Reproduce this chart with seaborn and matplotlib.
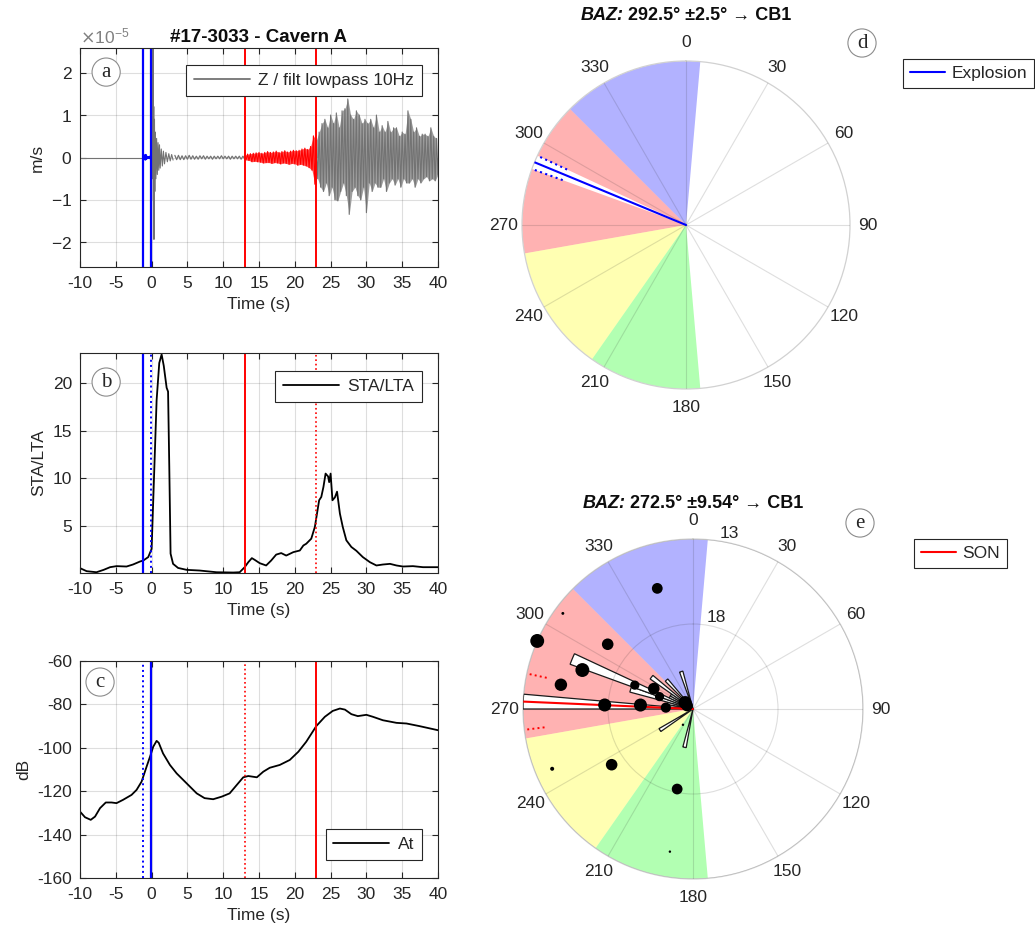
import numpy as np
import matplotlib
matplotlib.use("Agg")
import matplotlib.pyplot as plt
import seaborn as sns
from matplotlib.lines import Line2D
from matplotlib.offsetbox import TextArea, HPacker, AnnotationBbox

# ---------------------------------------------------------------- data
x_ticks = [-10, -5, 0, 5, 10, 15, 20, 25, 30, 35, 40]
expl_window = [-1.2, -0.1]      # explosion pick window (s)
son_window = [13.0, 23.0]       # SON window (s)
wave_scale = 1e-5               # m/s

# (a) Z trace, values in 1e-5 m/s (successive peaks / troughs)
quiet_t = [-10.0, -1.2]
quiet_v = [0.0, 0.0]
blue_v = [0.0, 0.02, -0.02, 0.03, -0.03, 0.06, -0.06, 0.07, -0.05, 0.06, -0.04, 0.03,
          -0.02, 0.02, -0.02, 0.02, -0.02, 0.02, -0.02, 0.03, -0.03, 0.03, 0.0]
expl_t = [-0.1, 0.0, 0.05, 0.1, 0.15, 0.2, 0.25, 0.3, 0.33, 0.4, 0.45, 0.5, 0.6, 0.7,
          0.8, 0.9, 1.0, 1.1, 1.2, 1.35, 1.5, 1.65, 1.8, 2.0, 2.2, 2.4, 2.6, 2.8, 3.0]
expl_v = [0.0, 0.3, -0.4, 2.6, -0.5, 2.6, -1.0, 1.2, -1.93, 0.9, -0.8, 0.6, -0.5, 0.45,
          -0.4, 0.35, -0.3, 0.3, -0.25, 0.2, -0.2, 0.15, -0.15, 0.12, -0.1, 0.09, -0.08, 0.07, -0.06]
coda_v = [0.05, -0.05, 0.05, -0.05, 0.04, -0.05, 0.04, -0.04, 0.05, -0.04,
          0.04, -0.04, 0.03, -0.04, 0.04, -0.03, 0.04, -0.04, 0.03, -0.03,
          0.03, -0.04, 0.03, -0.03, 0.03, -0.03, 0.04, -0.03, 0.03, -0.03,
          0.03, -0.04, 0.03, -0.03, 0.03, -0.03, 0.03, -0.04, 0.03, -0.03]
son_v = [0.05, -0.06, 0.08, -0.07, 0.09, -0.1, 0.1, -0.09, 0.11, -0.1,
         0.12, -0.11, 0.1, -0.13, 0.12, -0.12, 0.14, -0.12, 0.12, -0.14,
         0.13, -0.12, 0.15, -0.13, 0.12, -0.15, 0.14, -0.13, 0.16, -0.14,
         0.13, -0.16, 0.15, -0.14, 0.17, -0.15, 0.16, -0.18, 0.17, -0.16,
         0.2, -0.18, 0.22, -0.2, 0.19, -0.24, 0.26, -0.3, 0.51, -0.63, 0.4]
late_v = [0.4, -0.5, 0.6, -0.7, 0.8, -0.8, 0.9, -0.6, 0.7, -0.9,
          1.0, -0.7, 0.8, -1.0, 1.05, -1.02, 0.7, -0.8, 1.1, -0.6,
          1.15, -0.9, 1.38, -1.34, 1.0, -0.8, 0.9, -0.7, 1.1, -0.9,
          1.0, -1.0, 0.8, -0.7, 0.9, -1.3, 0.8, -0.6, 0.9, -0.8,
          0.7, -0.6, 1.0, -0.7, 0.6, -0.7, 0.75, -0.5, 0.6, -0.8,
          0.85, -0.6, 0.6, -0.5, 0.7, -0.65, 0.7, -0.5, 0.5, -0.7,
          0.6, -0.5, 0.55, -0.6, 1.1, -0.6, 0.9, -0.5, 0.6, -0.7,
          0.7, -0.5, 0.5, -0.6, 0.55, -0.5, 0.55, -0.45, 0.5, -0.55,
          0.7, -0.5, 0.5, -0.55, 0.45, -0.4]

# (b) STA/LTA
sta_t = [-10, -9.07, -7.7, -6.7, -5.8, -4.9, -3.5, -2.6, -1.6, -1.16, -0.47, 0.0, 0.23, 0.7,
         1.07, 1.4, 1.7, 2.1, 2.3, 2.47, 2.65, 3.0, 3.7, 4.9, 6.7, 9.07, 11.4, 12.3, 13.0,
         13.5, 14.0, 14.4, 15.1, 16.0, 16.7, 17.4, 18.1, 18.8, 19.8, 20.7, 21.2, 21.6, 22.3,
         22.8, 23.1, 23.4, 23.7, 24.0, 24.3, 24.65, 24.8, 25.0, 25.26, 25.6, 25.9, 26.3,
         26.7, 27.2, 27.9, 28.6, 29.5, 30.5, 31.4, 32.3, 33.3, 34.2, 35.1, 36.5, 37.9, 40.0]
sta_v = [0.58, 0.26, 0.15, 0.4, 0.68, 0.79, 0.75, 0.96, 1.28, 1.38, 1.74, 2.6, 7.7, 18.2,
         22.1, 23.0, 21.8, 19.5, 19.1, 11.2, 2.1, 1.03, 0.6, 0.4, 0.33, 0.15, 0.12, 0.15, 0.68,
         1.2, 1.63, 1.45, 1.1, 0.86, 1.38, 2.0, 2.16, 1.9, 2.26, 2.43, 2.96, 3.14, 3.67,
         4.9, 6.3, 7.7, 8.05, 9.1, 10.5, 10.2, 9.6, 10.5, 7.7, 8.0, 8.6, 6.3,
         4.9, 3.5, 2.8, 2.4, 1.74, 1.2, 0.86, 0.96, 1.03, 0.86, 0.75, 0.79, 0.68, 0.68]

# (c) At (dB)
at_t = [-10, -9.3, -8.5, -7.9, -7.2, -6.4, -5.6, -4.9, -4.0, -2.8, -2.1, -1.4, -0.7, -0.14,
        0.23, 0.7, 1.0, 1.6, 2.56, 3.5, 4.9, 6.3, 7.4, 8.6, 9.8, 10.9, 11.9, 12.8, 13.5, 14.7,
        15.6, 16.5, 17.9, 19.3, 20.5, 21.6, 23.0, 24.2, 25.3, 26.3, 27.0, 27.9, 28.8, 30.0,
        30.9, 32.3, 34.2, 35.6, 37.4, 40.0]
at_v = [-129.4, -132, -133.2, -131.7, -127.8, -125.2, -125.2, -125.5, -124, -121.7,
        -119.4, -115.6, -108.7, -103.3, -99.5, -96.8, -97.7, -102.6, -107.9, -111.8,
        -116.4, -121, -123.2, -123.7, -122.5, -121, -117.1, -113.6, -113, -113.6,
        -111, -109.2, -107.9, -105.6, -101.8, -97.2, -90, -85.7, -83, -81.9,
        -82.4, -84.5, -85.4, -84.8, -85.7, -87.3, -88.5, -88.8, -90, -91.9]

# polar panels
theta_ticks = [0, 30, 60, 90, 120, 150, 180, 210, 240, 270, 300, 330]
sector_start = [315, 260, 215, 175]
sector_end = [365, 315, 260, 215]
sector_color = ["blue", "red", "yellow", "lime"]
baz_d, err_d = 292.5, 2.5
baz_e, err_e = 272.5, 9.54

rose_center = [192.5, 237.5, 272.5, 277.5, 282.5, 287.5, 292.5, 297.5, 302.5,
               307.5, 312.5, 317.5, 322.5, 327.5, 332.5, 342.5]
rose_count = [3, 3, 13, 2, 2, 5, 10, 2, 2, 4, 1, 3, 1, 1, 1, 3]
rose_max = 13

r_ticks_e = [18, 13]
r_lim_e = (23, 13)
dot_baz = [343.5, 306.3, 293.6, 307.2, 289.4, 280.4, 292.3, 297.5, 290.3, 272.6,
           274.3, 272.9, 309.0, 300.0, 212.5, 247.0, 235.6, 191.2, 189.2]
dot_r = [15.6, 13.5, 13.0, 16.7, 16.1, 15.1, 19.3, 20.4, 20.9, 17.8,
         19.9, 21.4, 22.4, 22.6, 21.9, 14.0, 17.2, 18.2, 14.5]
dot_amp = [4.5, 0.3, 7.5, 5.2, 7.5, 6.0, 3.3, 5.2, 3.3, 6.6,
           6.6, 4.0, 6.6, 5.2, 0.2, 0.6, 5.2, 4.5, 0.2]

# ---------------------------------------------------------------- style
FS = 12.5
sns.set_theme(style="white")
plt.rcParams["font.family"] = ["Liberation Sans", "DejaVu Sans"]
plt.rcParams.update({
    "font.size": FS, "axes.labelsize": FS,
    "xtick.labelsize": FS, "ytick.labelsize": FS,
    "axes.unicode_minus": False,
    "axes.edgecolor": "0.15", "axes.linewidth": 0.8, "axes.labelcolor": "0.15",
    "xtick.color": "0.15", "ytick.color": "0.15",
    "xtick.direction": "in", "ytick.direction": "in",
    "xtick.top": True, "ytick.right": True,
    "xtick.major.size": 4, "ytick.major.size": 4,
    "xtick.major.width": 0.8, "ytick.major.width": 0.8,
    "xtick.major.pad": 6.5, "ytick.major.pad": 5.5,
    "axes.labelpad": 4.5,
    "grid.color": "0.15", "grid.alpha": 0.15, "grid.linewidth": 0.8,
    "legend.fontsize": FS,
})

W, H = 1035, 933
fig = plt.figure(figsize=(W / 100, H / 100), dpi=100)


def rect_px(l, t, r, b):
    return [l / W, 1 - b / H, (r - l) / W, (b - t) / H]


def style_rect(ax, ylabel):
    ax.set_xlim(x_ticks[0], x_ticks[-1])
    ax.set_xticks(x_ticks)
    ax.grid(True)
    ax.set_xlabel("Time (s)")
    ax.set_ylabel(ylabel)
    for s in ax.spines.values():
        s.set_visible(True)
        s.set_color("0.15")
        s.set_linewidth(0.8)
    ax.tick_params(direction="in", top=True, right=True, length=4, bottom=True, left=True)


def mark(ax, x, y, letter, transform):
    ax.text(x, y, letter, transform=transform, family=["Liberation Serif", "DejaVu Serif"],
            fontsize=15, ha="center", va="center", color="0.15", zorder=10,
            bbox=dict(boxstyle="circle,pad=0.22", fc="white", ec="0.55", lw=0.8))


def legend(ax, color, label, loc, anchor, hl):
    lg = ax.legend(handles=[Line2D([], [], color=color, lw=1.3)], labels=[label], loc=loc,
                   bbox_to_anchor=anchor, fancybox=False, edgecolor="0.15", framealpha=1,
                   handlelength=hl, borderpad=0.45, borderaxespad=0, handletextpad=0.5)
    lg.get_frame().set_linewidth(0.8)
    return lg


def line(ax, x, y, color, lw):
    sns.lineplot(x=np.asarray(x, float), y=np.asarray(y, float), ax=ax, color=color,
                 lw=lw, estimator=None, sort=False, legend=False)


def peaks_fill(ax, t, v, color):
    t = np.asarray(t, float)
    v = np.asarray(v, float) * wave_scale
    pos, neg = v > 0, v < 0
    ax.fill_between(t[pos], 0, v[pos], color=color, lw=0, zorder=1.5)
    ax.fill_between(t[neg], v[neg], 0, color=color, lw=0, zorder=1.5)


# ---------------------------------------------------------------- (a)
ax_a = fig.add_axes(rect_px(80, 48, 438, 267))
sc = wave_scale
gray = "0.45"
late_t = np.linspace(son_window[1], 40, len(late_v))
son_t = np.linspace(son_window[0], son_window[1], len(son_v))
peaks_fill(ax_a, late_t, late_v, "0.62")
peaks_fill(ax_a, son_t, son_v, "#ff5050")
line(ax_a, quiet_t, np.array(quiet_v) * sc, gray, 0.8)
line(ax_a, expl_t, np.array(expl_v) * sc, gray, 0.8)
line(ax_a, np.linspace(3.25, son_window[0], len(coda_v)), np.array(coda_v) * sc, gray, 0.9)
line(ax_a, late_t, np.array(late_v) * sc, gray, 0.8)
line(ax_a, np.linspace(expl_window[0], expl_window[1], len(blue_v)), np.array(blue_v) * sc, "blue", 1.0)
line(ax_a, son_t, np.array(son_v) * sc, "red", 0.8)
for t in expl_window:
    ax_a.axvline(t, color="blue", lw=1.6)
for t in son_window:
    ax_a.axvline(t, color="red", lw=1.4)
ax_a.set_ylim(-2.58 * sc, 2.58 * sc)
ax_a.set_yticks(np.array([-2, -1, 0, 1, 2]) * sc)
style_rect(ax_a, "m/s")
fmt = matplotlib.ticker.ScalarFormatter(useMathText=True)
fmt.set_powerlimits((-3, 3))
ax_a.yaxis.set_major_formatter(fmt)
ax_a.yaxis.get_offset_text().set_color("0.5")
ax_a.yaxis.get_offset_text().set_fontsize(FS)
ax_a.set_title("#17-3033 - Cavern A", fontweight="bold", fontsize=13.5, color="0.05", pad=4)
legend(ax_a, gray, "Z / filt lowpass 10Hz", "upper right", (0.955, 0.922), 3.2)
mark(ax_a, 0.073, 0.89, "a", ax_a.transAxes)

# ---------------------------------------------------------------- (b)
ax_b = fig.add_axes(rect_px(80, 353, 438, 573))
line(ax_b, sta_t, sta_v, "black", 1.3)
ax_b.axvline(expl_window[0], color="blue", lw=1.6)
ax_b.axvline(expl_window[1], color="blue", lw=1.4, ls=":")
ax_b.axvline(son_window[0], color="red", lw=1.4)
ax_b.axvline(son_window[1], color="red", lw=1.2, ls=":")
ax_b.set_ylim(min(sta_v) - 0.05, max(sta_v) + 0.15)
ax_b.set_yticks([5, 10, 15, 20])
style_rect(ax_b, "STA/LTA")
legend(ax_b, "black", "STA/LTA", "upper right", (0.955, 0.918), 3.2)
mark(ax_b, 0.073, 0.868, "b", ax_b.transAxes)

# ---------------------------------------------------------------- (c)
ax_c = fig.add_axes(rect_px(80, 661, 438, 878))
line(ax_c, at_t, at_v, "black", 1.3)
ax_c.axvline(expl_window[0], color="blue", lw=1.4, ls=":")
ax_c.axvline(expl_window[1], color="blue", lw=1.6)
ax_c.axvline(son_window[0], color="red", lw=1.2, ls=":")
ax_c.axvline(son_window[1], color="red", lw=1.4)
ax_c.set_ylim(-160, -60)
ax_c.set_yticks([-160, -140, -120, -100, -80, -60])
style_rect(ax_c, "dB")
legend(ax_c, "black", "At", "lower right", (0.955, 0.083), 3.2)
mark(ax_c, 0.056, 0.903, "c", ax_c.transAxes)


# ---------------------------------------------------------------- polar helpers
def polar_base(rect, label):
    ax = fig.add_axes(rect, projection="polar", label=label)
    ax.set_theta_zero_location("N")
    ax.set_theta_direction(-1)
    return ax


def sectors(ax, rtop):
    for a0, a1, c in zip(sector_start, sector_end, sector_color):
        ax.bar(np.radians((a0 + a1) / 2), rtop, width=np.radians(a1 - a0), bottom=0,
               color=c, alpha=0.3, linewidth=0, zorder=1)


def polar_frame(ax):
    ax.set_thetagrids(theta_ticks, labels=[str(a) for a in theta_ticks])
    ax.tick_params(axis="x", pad=6, labelsize=FS, colors="0.15")
    ax.xaxis.grid(True, color="0.15", alpha=0.15, lw=0.8)
    ax.set_axisbelow(False)
    ax.spines["polar"].set_color("0.82")
    ax.spines["polar"].set_linewidth(0.9)
    ax.set_xlim(0, 2 * np.pi)


def overlay(rect, label):
    ax = polar_base(rect, label)
    ax.set_facecolor("none")
    ax.patch.set_alpha(0)
    ax.spines["polar"].set_visible(False)
    return ax


def title_box(x, y, rest):
    t1 = TextArea("BAZ:", textprops=dict(fontweight="bold", fontstyle="italic", fontsize=13, color="0.05"))
    t2 = TextArea(rest, textprops=dict(fontweight="bold", fontsize=13, color="0.05"))
    box = HPacker(children=[t1, t2], align="baseline", pad=0, sep=0)
    ab = AnnotationBbox(box, (x, y), xycoords="figure fraction", frameon=False,
                        box_alignment=(0.5, 0.5))
    fig.add_artist(ab)


def fig_legend(color, label, anchor):
    lg = fig.legend(handles=[Line2D([], [], color=color, lw=1.5)], labels=[label],
                    loc="upper left", bbox_to_anchor=anchor, fancybox=False,
                    edgecolor="0.15", framealpha=1, handlelength=2.0, borderpad=0.4,
                    borderaxespad=0, handletextpad=0.4)
    lg.get_frame().set_linewidth(0.8)


# ---------------------------------------------------------------- (d)
rect_d = rect_px(522, 61, 850, 389)
ax_d = polar_base(rect_d, "d")
sectors(ax_d, 1.0)
ax_d.bar(np.radians(baz_d), 1.0, width=np.radians(2 * err_d), bottom=0, color="white",
         linewidth=0, zorder=1.5)
ax_d.plot([np.radians(baz_d)] * 2, [0, 1.0], color="blue", lw=1.5, zorder=3)
for a in (baz_d - err_d, baz_d + err_d):
    ax_d.plot([np.radians(a)] * 2, [0.8, 1.0], color="blue", lw=1.5, ls=":", zorder=3)
ax_d.set_ylim(0, 1.0)
ax_d.set_rticks([])
polar_frame(ax_d)
fig_legend("blue", "Explosion", (903 / W, 1 - 59 / H))
title_box(686 / W, 1 - 15 / H, " %.1f\u00b0 \u00b1%.1f\u00b0 \u2192 CB1" % (baz_d, err_d))
mark(fig, 862 / W, 1 - 43 / H, "d", fig.transFigure)

# ---------------------------------------------------------------- (e)
rect_e = rect_px(523, 539, 863, 879)
ax_e = polar_base(rect_e, "e")
sectors(ax_e, rose_max)
ax_e.set_ylim(0, rose_max)
ax_e.set_rticks([])
polar_frame(ax_e)

ax_rose = overlay(rect_e, "rose")
ax_rose.bar(np.radians(rose_center), rose_count, width=np.radians(5), bottom=0,
            color="white", edgecolor="0.1", linewidth=0.9, zorder=3)
ax_rose.plot([np.radians(baz_e)] * 2, [0, rose_max], color="red", lw=1.5, zorder=4)
for a in (baz_e - err_e, baz_e + err_e):
    ax_rose.plot([np.radians(a)] * 2, [0.88 * rose_max, 0.99 * rose_max], color="red",
                 lw=1.4, ls=":", zorder=4)
ax_rose.set_ylim(0, rose_max)
ax_rose.set_xlim(0, 2 * np.pi)
ax_rose.axis("off")

ax_dot = overlay(rect_e, "dots")
sns.scatterplot(x=np.radians(dot_baz), y=dot_r, size=dot_amp, sizes=(3, 100),
                size_norm=(min(dot_amp), max(dot_amp)), color="black", linewidth=0,
                legend=False, ax=ax_dot, clip_on=False, zorder=5)
ax_dot.set_ylim(*r_lim_e)
ax_dot.set_xlim(0, 2 * np.pi)
ax_dot.set_rgrids(r_ticks_e, labels=[str(v) for v in r_ticks_e], angle=9,
                  fontsize=FS, color="0.15")
ax_dot.set_thetagrids([])
ax_dot.xaxis.grid(False)
ax_dot.yaxis.grid(True, color="0.15", alpha=0.15, lw=0.8)
ax_dot.set_xlabel("")
ax_dot.set_ylabel("")

fig_legend("red", "SON", (914 / W, 1 - 539 / H))
title_box(693 / W, 1 - 503 / H, " %.1f\u00b0 \u00b1%.2f\u00b0 \u2192 CB1" % (baz_e, err_e))
mark(fig, 860 / W, 1 - 523 / H, "e", fig.transFigure)

fig.savefig("out.png", dpi=100)
